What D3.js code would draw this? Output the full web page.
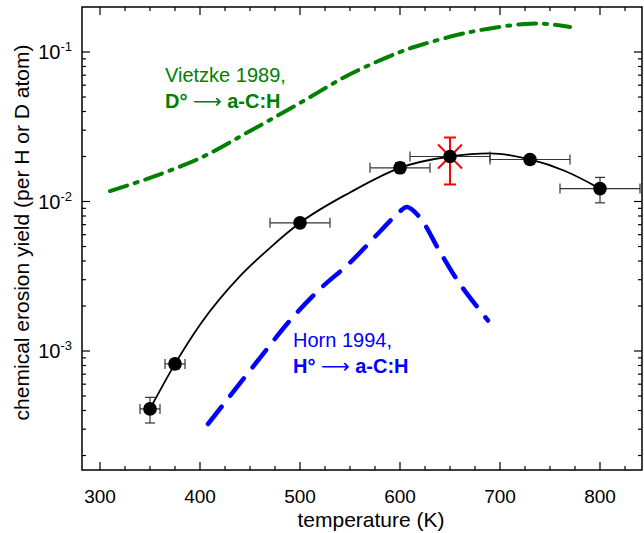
<!DOCTYPE html>
<html><head><meta charset="utf-8">
<script src="https://cdn.jsdelivr.net/npm/d3@7"></script>
<style>body{margin:0;background:#fff}svg{display:block;font-family:"Liberation Sans",Arial,sans-serif}</style>
</head><body><svg id="c" width="644" height="533"></svg>
<script>
// measured data (temperature in K, yield per H/D atom)
const temps  = [350, 375, 500, 600, 650, 730, 800];
const yields = [4.1e-4, 8.2e-4, 7.2e-3, 1.68e-2, 2.0e-2, 1.91e-2, 1.22e-2];
const tErr   = [10, 10, 30, 30, 40, 40, 40];
const yLow   = [3.3e-4, 7.6e-4, 6.8e-3, 1.56e-2, 1.9e-2, 1.85e-2, 9.8e-3];
const yHigh  = [4.9e-4, 8.8e-4, 7.6e-3, 1.82e-2, 2.1e-2, 1.97e-2, 1.45e-2];
// highlighted point
const redT = [650], redY = [2.0e-2], redLow = [1.3e-2], redHigh = [2.68e-2];
// fit curve
const fitT = [350, 375, 400, 440, 470, 500, 550, 600, 650, 690, 730, 765, 800];
const fitY = [4.1e-4, 8.2e-4, 1.5e-3, 3.17e-3, 4.9e-3, 7.2e-3, 1.15e-2, 1.68e-2, 2.0e-2, 2.1e-2, 1.91e-2, 1.6e-2, 1.22e-2];
// Vietzke 1989
const vietT = [310, 350, 400, 450, 500, 550, 600, 620, 670, 725, 747, 770];
const vietY = [1.175e-2, 1.44e-2, 1.95e-2, 2.96e-2, 4.56e-2, 7.1e-2, 0.1, 0.111, 0.136, 0.154, 0.154, 0.147];
// Horn 1994
const hornT = [408, 430, 460, 490, 520, 550, 580, 600, 607, 620, 640, 660, 688];
const hornY = [3.25e-4, 5.0e-4, 9.0e-4, 1.6e-3, 2.6e-3, 3.9e-3, 6.3e-3, 8.6e-3, 9.2e-3, 7.8e-3, 4.6e-3, 2.8e-3, 1.6e-3];
const xTicks = [300, 400, 500, 600, 700, 800];
const yTicks = [1e-3, 1e-2, 1e-1];
const yTickExp = ["-3", "-2", "-1"];

const svg = d3.select("#c");
const L = 82, R = 642, T = 7, B = 470;
const x = d3.scaleLinear().domain([282, 842]).range([L, R]);
const y = d3.scaleLog().domain([1.6e-4, 0.2]).range([B, T]);

// frame
svg.append("rect").attr("x", L).attr("y", T).attr("width", R - L).attr("height", B - T)
  .attr("fill", "none").attr("stroke", "#000").attr("stroke-width", 1.5);

// minor ticks
const xMinor = d3.range(300, 842, 25).filter(v => v % 100 !== 0);
const yMinor = [];
[1e-4, 1e-3, 1e-2, 1e-1].forEach(d => { for (let k = 2; k <= 9; k++) { const v = d * k; if (v > 1.6e-4 && v < 0.2) yMinor.push(v); } });
const tk = svg.append("g").attr("stroke", "#000").attr("stroke-width", 1.2);
xTicks.forEach(v => { tk.append("line").attr("x1", x(v)).attr("x2", x(v)).attr("y1", B).attr("y2", B - 8);
  tk.append("line").attr("x1", x(v)).attr("x2", x(v)).attr("y1", T).attr("y2", T + 8); });
xMinor.forEach(v => { tk.append("line").attr("x1", x(v)).attr("x2", x(v)).attr("y1", B).attr("y2", B - 4);
  tk.append("line").attr("x1", x(v)).attr("x2", x(v)).attr("y1", T).attr("y2", T + 4); });
yTicks.forEach(v => { tk.append("line").attr("x1", L).attr("x2", L + 8).attr("y1", y(v)).attr("y2", y(v));
  tk.append("line").attr("x1", R).attr("x2", R - 8).attr("y1", y(v)).attr("y2", y(v)); });
yMinor.forEach(v => { tk.append("line").attr("x1", L).attr("x2", L + 4).attr("y1", y(v)).attr("y2", y(v));
  tk.append("line").attr("x1", R).attr("x2", R - 4).attr("y1", y(v)).attr("y2", y(v)); });

// tick labels
svg.append("g").selectAll("text").data(xTicks).join("text")
  .attr("x", d => x(d)).attr("y", B + 33).attr("text-anchor", "middle")
  .attr("font-size", 19).text(d => d);
const yl = svg.append("g").selectAll("text").data(yTicks).join("text")
  .attr("x", 72).attr("y", d => y(d) + 7).attr("text-anchor", "end").attr("font-size", 20);
yl.append("tspan").text("10");
yl.append("tspan").attr("dy", -8).attr("font-size", 13).text((d, i) => yTickExp[i]);

// axis titles
svg.append("text").attr("x", 371).attr("y", 527).attr("text-anchor", "middle")
  .attr("font-size", 21).text("temperature (K)");
svg.append("text").attr("transform", `translate(29,${(T + B) / 2 - 6}) rotate(-90)`)
  .attr("text-anchor", "middle").attr("font-size", 21).text("chemical erosion yield (per H or D atom)");

// lines
const line = d3.line().x(d => x(d[0])).y(d => y(d[1])).curve(d3.curveCatmullRom);
svg.append("path").datum(vietT.map((t, i) => [t, vietY[i]])).attr("d", line)
  .attr("fill", "none").attr("stroke", "#008000").attr("stroke-width", 4)
  .attr("stroke-dasharray", "18,8,3,8").attr("stroke-linecap", "round");
svg.append("path").datum(hornT.map((t, i) => [t, hornY[i]])).attr("d", line)
  .attr("fill", "none").attr("stroke", "#0000ff").attr("stroke-width", 4.5)
  .attr("stroke-dasharray", "22,14").attr("stroke-linecap", "round");
svg.append("path").datum(fitT.map((t, i) => [t, fitY[i]]))
  .attr("d", d3.line().x(d => x(d[0])).y(d => y(d[1])).curve(d3.curveMonotoneX))
  .attr("fill", "none").attr("stroke", "#000").attr("stroke-width", 1.8);

// red marker
const rg = svg.append("g").attr("stroke", "#ff0000").attr("stroke-width", 2);
redT.forEach((t, i) => {
  const cx = x(t), cy = y(redY[i]);
  rg.append("line").attr("x1", cx).attr("x2", cx).attr("y1", y(redLow[i])).attr("y2", y(redHigh[i]));
  rg.append("line").attr("x1", cx - 6).attr("x2", cx + 6).attr("y1", y(redLow[i])).attr("y2", y(redLow[i]));
  rg.append("line").attr("x1", cx - 6).attr("x2", cx + 6).attr("y1", y(redHigh[i])).attr("y2", y(redHigh[i]));
  rg.append("line").attr("x1", cx - 12).attr("x2", cx + 12).attr("y1", cy - 12).attr("y2", cy + 12);
  rg.append("line").attr("x1", cx - 12).attr("x2", cx + 12).attr("y1", cy + 12).attr("y2", cy - 12);
});

// error bars
const eg = svg.append("g").attr("stroke", "#333").attr("stroke-width", 1.2);
temps.forEach((t, i) => {
  const cy = y(yields[i]), cx = x(t);
  eg.append("line").attr("x1", x(t - tErr[i])).attr("x2", x(t + tErr[i])).attr("y1", cy).attr("y2", cy);
  [t - tErr[i], t + tErr[i]].forEach(v => eg.append("line").attr("x1", x(v)).attr("x2", x(v)).attr("y1", cy - 5).attr("y2", cy + 5));
  eg.append("line").attr("x1", cx).attr("x2", cx).attr("y1", y(yLow[i])).attr("y2", y(yHigh[i]));
  [yLow[i], yHigh[i]].forEach(v => eg.append("line").attr("x1", cx - 5).attr("x2", cx + 5).attr("y1", y(v)).attr("y2", y(v)));
});
svg.append("g").selectAll("circle").data(temps).join("circle")
  .attr("cx", d => x(d)).attr("cy", (d, i) => y(yields[i])).attr("r", 6.8).attr("fill", "#000");

// annotations
function annot(color, x0, y0, line1, sym) {
  const g = svg.append("g").attr("fill", color).attr("font-size", 20);
  g.append("text").attr("x", x0).attr("y", y0).text(line1);
  const t = g.append("text").attr("x", x0).attr("y", y0 + 26).attr("font-weight", "bold");
  t.append("tspan").text(sym + "° ");
  t.append("tspan").attr("font-family", "DejaVu Sans").attr("font-weight", "normal").text("⟶");
  t.append("tspan").text(" a-C:H");
}
annot("#008000", 165, 82, "Vietzke 1989,", "D");
annot("#0000ff", 293, 347, "Horn 1994,", "H");
</script></body></html>
